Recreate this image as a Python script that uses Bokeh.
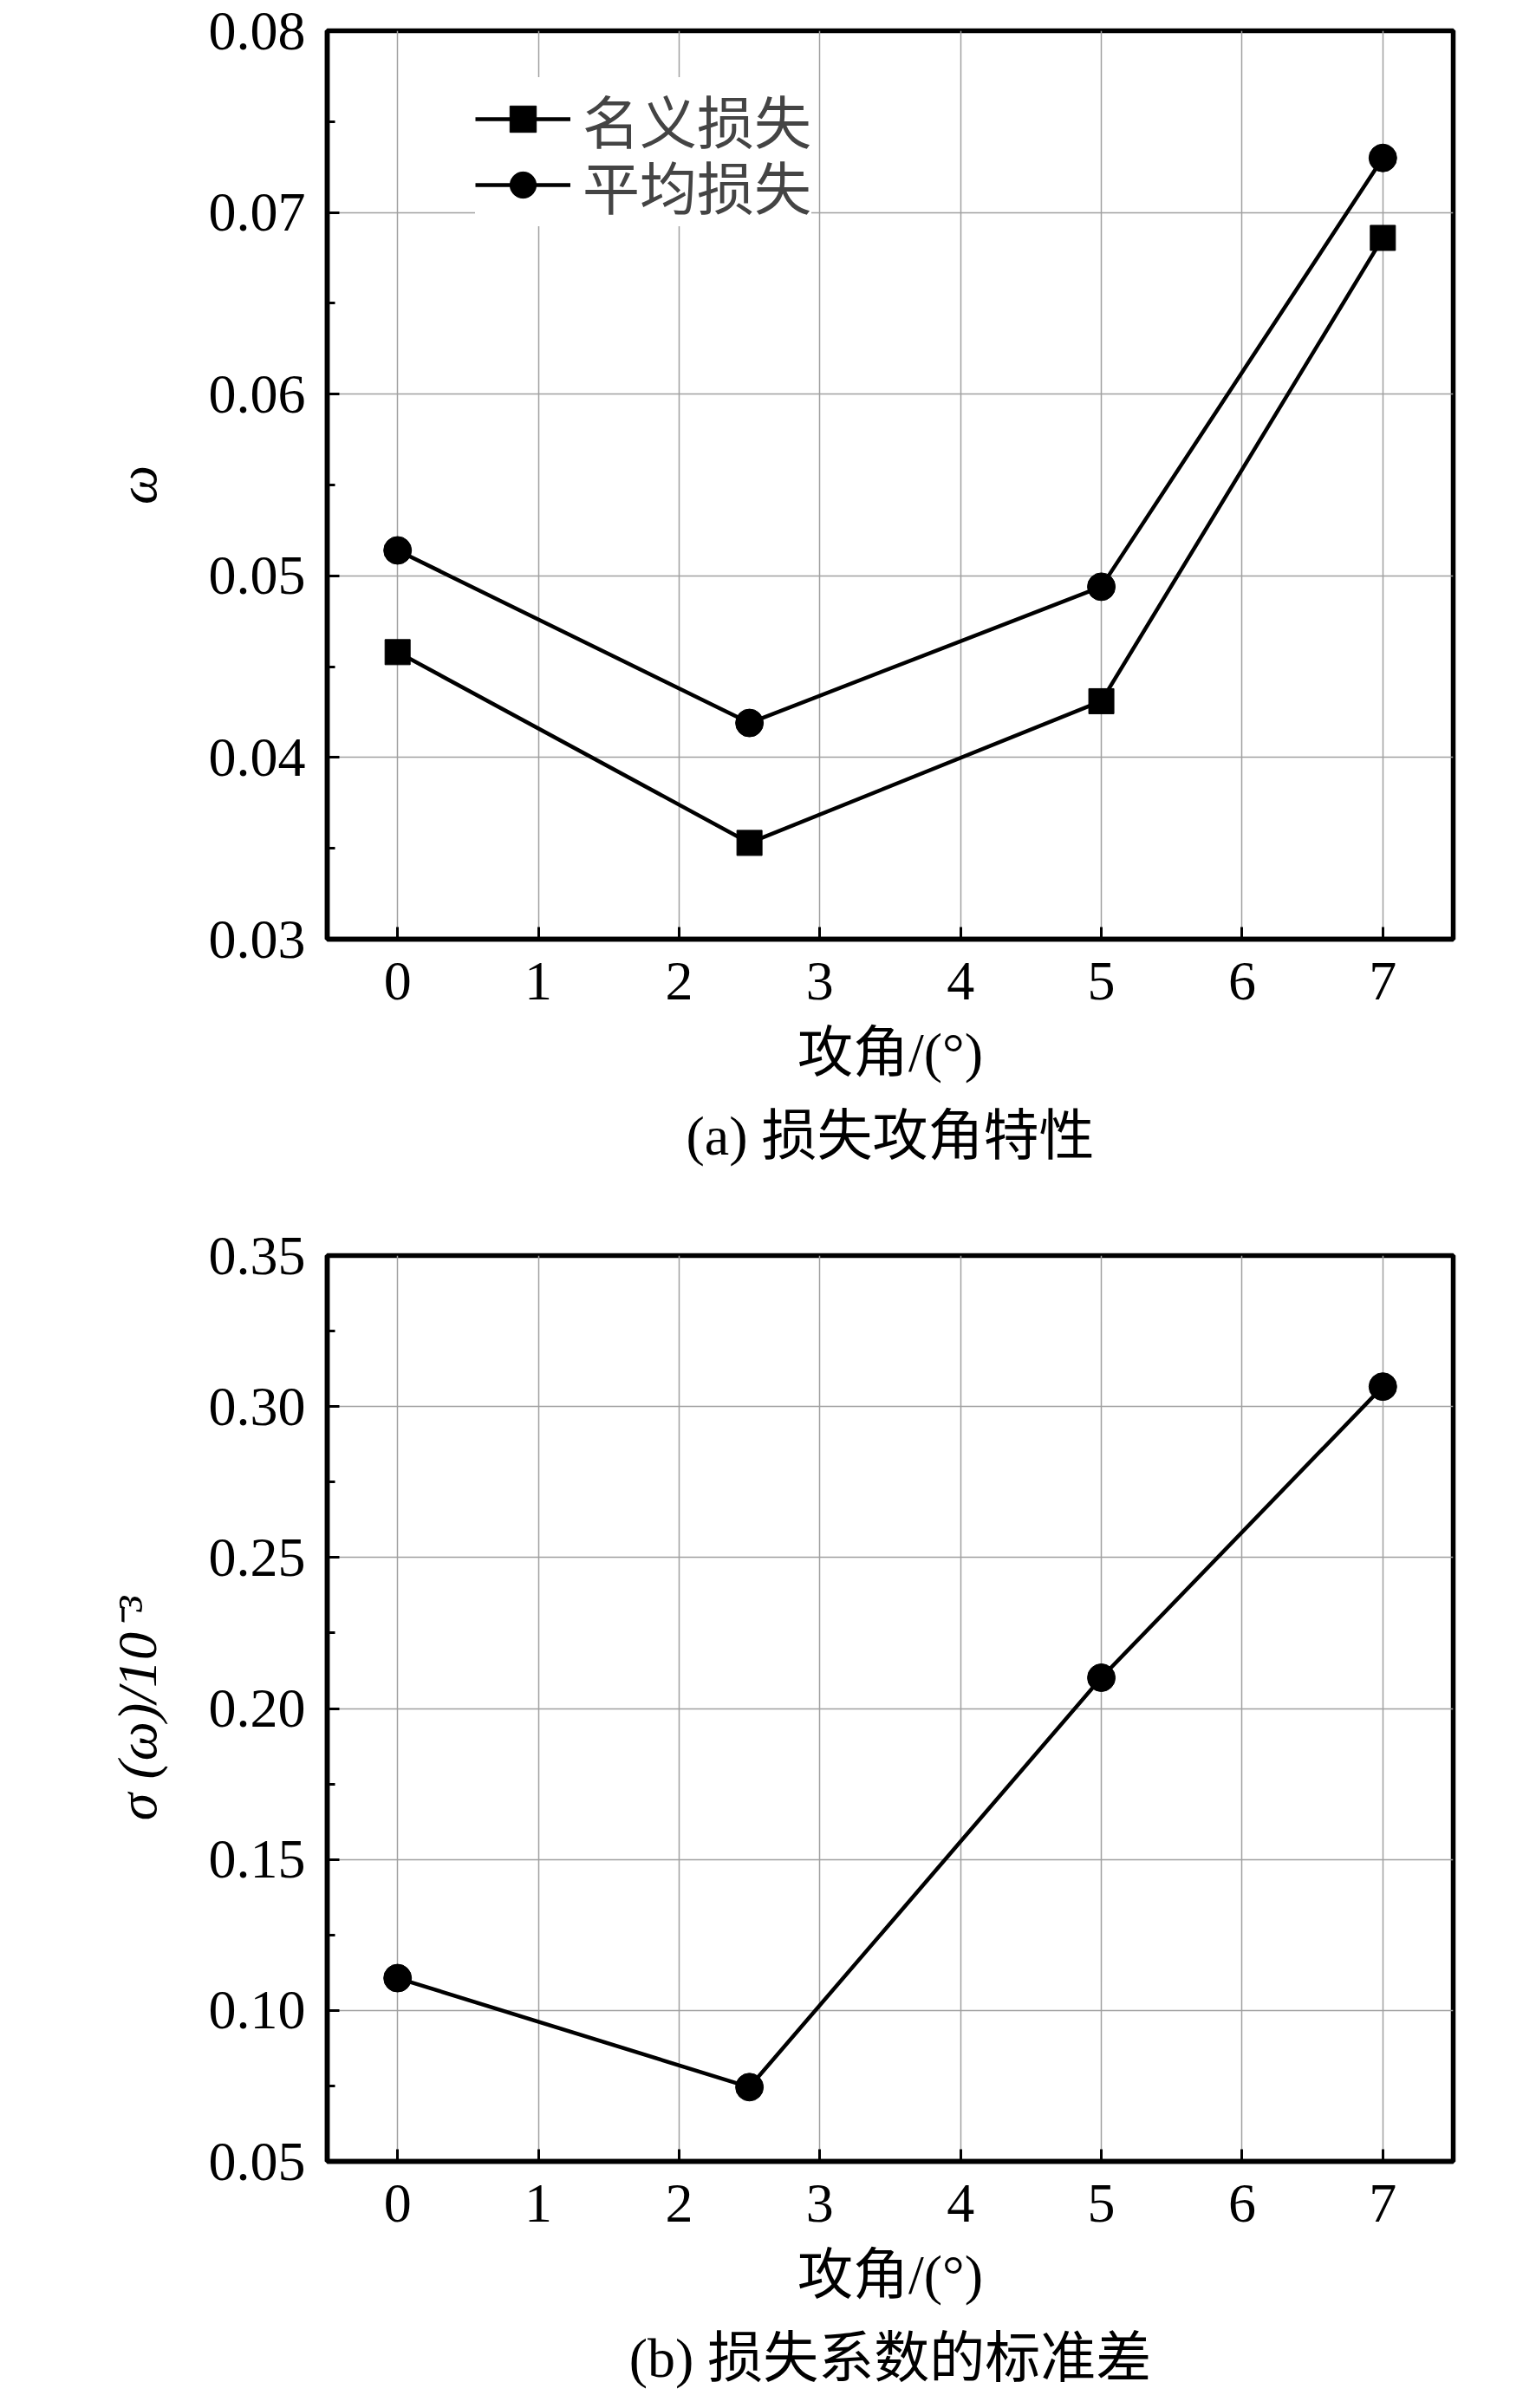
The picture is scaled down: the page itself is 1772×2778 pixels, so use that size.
from bokeh.plotting import figure
from bokeh.layouts import column
from bokeh.models import FixedTicker, NumeralTickFormatter, Title, Range1d, Legend, LegendItem
from bokeh.embed import file_html
from bokeh.resources import INLINE

# ---- data ----
angles = [0, 2.5, 5, 7]
nominal_loss = [0.0458, 0.0353, 0.0431, 0.0686]
mean_loss = [0.0514, 0.0419, 0.0494, 0.0730]
sigma_loss = [0.1107, 0.0746, 0.2102, 0.3066]

x_ticks = [0, 1, 2, 3, 4, 5, 6, 7]
y1_ticks = [0.03, 0.04, 0.05, 0.06, 0.07, 0.08]
y1_minor = [0.035, 0.045, 0.055, 0.065, 0.075]
y2_ticks = [0.05, 0.10, 0.15, 0.20, 0.25, 0.30, 0.35]
y2_minor = [0.075, 0.125, 0.175, 0.225, 0.275, 0.325]

label_nominal = "名义损失"
label_mean = "平均损失"
xlabel = "攻角/(°)"
ylabel1 = "ω"
ylabel2 = "σ (ω)/10⁻³"
caption1 = "(a) 损失攻角特性"
caption2 = "(b) 损失系数的标准差"

FONT = "'Liberation Serif', 'Noto Sans CJK SC'"
FS = "64px"
FRAME_W = 1299


def style(p, yticks, yminor, ylabel, caption):
    p.x_range = Range1d(-0.5, 7.5)
    p.outline_line_color = "black"
    p.outline_line_width = 5.5
    p.background_fill_color = "white"
    p.border_fill_color = "white"
    for ax in (p.xaxis[0], p.yaxis[0]):
        ax.axis_line_width = 5.5
        ax.axis_line_color = "black"
        ax.major_tick_in = 14
        ax.major_tick_out = 0
        ax.major_tick_line_width = 3
        ax.minor_tick_in = 9
        ax.minor_tick_out = 0
        ax.minor_tick_line_width = 3
        ax.major_label_text_font = FONT
        ax.major_label_text_font_size = FS
        ax.major_label_text_color = "black"
        ax.axis_label_text_font = FONT
        ax.axis_label_text_font_size = FS
        ax.axis_label_text_color = "black"
        ax.axis_label_text_font_style = "normal"
    p.xaxis[0].ticker = FixedTicker(ticks=x_ticks)
    p.yaxis[0].ticker = FixedTicker(ticks=yticks, minor_ticks=yminor)
    p.yaxis[0].formatter = NumeralTickFormatter(format="0.00")
    p.xaxis[0].axis_label = xlabel
    p.yaxis[0].axis_label = ylabel
    p.xaxis[0].major_label_standoff = 27
    p.xaxis[0].axis_label_standoff = 23
    p.yaxis[0].major_label_standoff = 25
    p.yaxis[0].axis_label_standoff = 44
    p.xgrid[0].ticker = FixedTicker(ticks=x_ticks)
    p.ygrid[0].ticker = FixedTicker(ticks=yticks)
    for g in (p.xgrid[0], p.ygrid[0]):
        g.grid_line_color = "#a0a0a0"
        g.grid_line_width = 1.5
    cap = Title(text=caption, align="center", text_font=FONT, text_font_size=FS,
                text_font_style="normal", text_color="black", standoff=40)
    p.add_layout(cap, "below")


# ---- top figure ----
p1 = figure(frame_width=FRAME_W, frame_height=1048, output_backend="svg",
            toolbar_location=None, min_border_left=377, min_border_right=80,
            min_border_top=35, min_border_bottom=317, y_range=Range1d(0.03, 0.08))
style(p1, y1_ticks, y1_minor, ylabel1, caption1)
p1.yaxis[0].axis_label_text_font_style = "italic"

l1 = p1.line(angles, nominal_loss, line_color="black", line_width=4.5)
s1 = p1.scatter(angles, nominal_loss, marker="square", size=29, fill_color="black", line_color="black")
l2 = p1.line(angles, mean_loss, line_color="black", line_width=4.5)
s2 = p1.scatter(angles, mean_loss, marker="circle", size=32, fill_color="black", line_color="black")


def make_legend(item, loc):
    return Legend(items=[item], location=loc, padding=0, margin=0, spacing=0,
                  glyph_width=110, glyph_height=76, label_standoff=14,
                  label_text_font=FONT, label_text_font_size="66px",
                  border_line_color=None, background_fill_color="white",
                  background_fill_alpha=1.0, label_height=40)


# second row first so the first row's box is drawn on top
p1.add_layout(make_legend(LegendItem(label=label_mean, renderers=[l2, s2]), (171, 822)), "center")
p1.add_layout(make_legend(LegendItem(label=label_nominal, renderers=[l1, s1]), (171, 898)), "center")

# ---- bottom figure ----
p2 = figure(frame_width=FRAME_W, frame_height=1045, output_backend="svg",
            toolbar_location=None, min_border_left=377, min_border_right=80,
            min_border_top=48, min_border_bottom=50, y_range=Range1d(0.05, 0.35))
style(p2, y2_ticks, y2_minor, ylabel2, caption2)
p2.yaxis[0].axis_label_text_font_style = "italic"
p2.line(angles, sigma_loss, line_color="black", line_width=4.5)
p2.scatter(angles, sigma_loss, marker="circle", size=32, fill_color="black", line_color="black")

layout = column(p1, p2, spacing=0)
open("out.html", "w").write(file_html(layout, INLINE))
